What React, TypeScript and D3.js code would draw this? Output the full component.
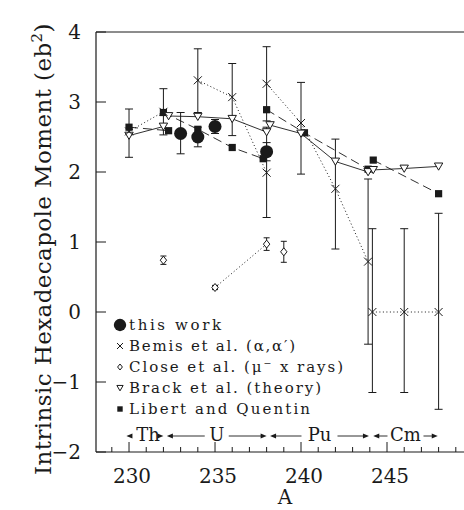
import React from "react";
import * as d3 from "d3";

// each row: [A, Q40 (eb^2), low end of error bar, high end of error bar]
const thisWork = [
  [233, 2.55, 2.26, 2.85],
  [234, 2.5, 2.36, 2.64],
  [235, 2.65, 2.55, 2.75],
  [238, 2.29, 2.16, 2.42],
];

// Bemis et al. (alpha, alpha'), one list per element chain
const bemisTh = [
  [230, 2.58, 2.21, 2.9],
  [232, 2.86, 2.53, 3.19],
];
const bemisU = [
  [234, 3.31, 2.85, 3.76],
  [236, 3.07, 2.52, 3.55],
  [238, 1.99, 1.35, 2.64],
];
const bemisPu = [
  [238, 3.26, 2.73, 3.79],
  [240, 2.7, 1.97, 3.28],
  [242, 1.76, 0.9, 2.47],
  [243.9, 0.72, -0.46, 1.9],
];
const bemisCm = [
  [244.15, 0, -1.15, 1.19],
  [246, 0, -1.15, 1.19],
  [248, 0, -1.39, 1.41],
];

// Close et al. (muonic x rays)
const closeSingle = [
  [232, 0.74, 0.68, 0.8],
  [239, 0.86, 0.71, 1.01],
];
const closeU = [
  [235, 0.35, 0.32, 0.38],
  [238, 0.97, 0.88, 1.06],
];

// Brack et al. (theory)
const brackTh = [[230, 2.52], [232, 2.65]];
const brackU = [[232.3, 2.8], [234, 2.79], [236, 2.76], [238, 2.57]];
const brackPu = [[238.2, 2.67], [240, 2.55], [242, 2.15], [243.9, 2.0]];
const brackCm = [[244.2, 2.03], [246, 2.05], [248, 2.08]];

// Libert and Quentin
const libertTh = [[230, 2.64], [232.3, 2.59]];
const libertU = [[232, 2.85], [234, 2.61], [236, 2.35], [237.8, 2.19]];
const libertPu = [[238, 2.89], [240.2, 2.56], [243.9, 2.04]];
const libertCm = [[244.2, 2.17], [248, 1.69]];

const yTicks = [-2, -1, 0, 1, 2, 3, 4];
const xMajor = [230, 235, 240, 245];
const elements = ["Th", "U", "Pu", "Cm"];
const elementFrom = [229.85, 232.2, 238.2, 244.2];
const elementTo = [232.0, 238.0, 243.95, 247.95];

const legendLabels = [
  "this work",
  "Bemis et al. (\u03b1,\u03b1\u2032)",
  "Close et al. (\u03bc\u207b x rays)",
  "Brack et al. (theory)",
  "Libert and Quentin",
];

const FONT = "DejaVu Serif";
const INK = "#1a1a1a";

function Marker({ kind, cx, cy, s = 1 }) {
  if (kind === "circle") return <circle cx={cx} cy={cy} r={6.5 * s} fill={INK} />;
  if (kind === "cross")
    return (
      <g stroke={INK} strokeWidth={1}>
        <line x1={cx - 4 * s} y1={cy - 4 * s} x2={cx + 4 * s} y2={cy + 4 * s} />
        <line x1={cx - 4 * s} y1={cy + 4 * s} x2={cx + 4 * s} y2={cy - 4 * s} />
      </g>
    );
  if (kind === "diamond")
    return (
      <path
        d={`M${cx},${cy - 4 * s}L${cx + 3.2 * s},${cy}L${cx},${cy + 4 * s}L${cx - 3.2 * s},${cy}Z`}
        fill="#fff"
        stroke={INK}
        strokeWidth={1}
      />
    );
  if (kind === "tri")
    return (
      <path
        d={`M${cx - 4.2 * s},${cy - 3.4 * s}L${cx + 4.2 * s},${cy - 3.4 * s}L${cx},${cy + 3.8 * s}Z`}
        fill="#fff"
        stroke={INK}
        strokeWidth={1}
      />
    );
  return <rect x={cx - 3.6 * s} y={cy - 3.6 * s} width={7.2 * s} height={7.2 * s} fill={INK} />;
}

export default function App() {
  const width = 464;
  const height = 510;

  const x = d3.scaleLinear().domain([228.08, 249.5]).range([96, 464.4]);
  const y = d3.scaleLinear().domain([-2, 4]).range([452, 32]);

  const line = d3
    .line<number[]>()
    .x((d) => x(d[0]))
    .y((d) => y(d[1]));

  const xMinor = d3.range(229, 250, 1);

  const errorBars = (data, cap) =>
    data.map((d, i) => (
      <g key={i} stroke={INK} strokeWidth={1}>
        <line x1={x(d[0])} x2={x(d[0])} y1={y(d[2])} y2={y(d[3])} />
        <line x1={x(d[0]) - cap} x2={x(d[0]) + cap} y1={y(d[2])} y2={y(d[2])} />
        <line x1={x(d[0]) - cap} x2={x(d[0]) + cap} y1={y(d[3])} y2={y(d[3])} />
      </g>
    ));

  const markers = (data, kind) =>
    data.map((d, i) => <Marker key={i} kind={kind} cx={x(d[0])} cy={y(d[1])} />);

  const dotted = { fill: "none", stroke: INK, strokeWidth: 1, strokeDasharray: "1 2.5" };
  const dashed = { fill: "none", stroke: INK, strokeWidth: 0.9, strokeDasharray: "9 5" };
  const solid = { fill: "none", stroke: INK, strokeWidth: 0.9 };

  const bemisAll = [...bemisTh, ...bemisU, ...bemisPu, ...bemisCm];
  const closeAll = [...closeSingle, ...closeU];
  const brackAll = [...brackTh, ...brackU, ...brackPu, ...brackCm];
  const libertAll = [...libertTh, ...libertU, ...libertPu, ...libertCm];

  const legendKinds = ["circle", "cross", "diamond", "tri", "square"];
  const legendLengths = [92, 166, 214, 192, 181];
  const legendY = d3.scaleLinear().domain([0, 4]).range([325, 409]);

  const arrowY = 436;
  const head = (tipX, dir) =>
    `M${tipX},${arrowY}L${tipX - dir * 6},${arrowY - 2.6}L${tipX - dir * 6},${arrowY + 2.6}Z`;

  return (
    <svg
      width={width}
      height={height}
      style={{ position: "absolute", left: 0, top: 0, background: "#fff" }}
      fontFamily={FONT}
    >
      <rect width={width} height={height} fill="#fff" />

      {/* frame */}
      <g stroke={INK} strokeWidth={1.2} fill="none">
        <line x1={96} x2={96} y1={32} y2={452} />
        <line x1={96} x2={464} y1={452} y2={452} />
        <line x1={96} x2={464} y1={32} y2={32} strokeWidth={1} />
      </g>

      {/* y ticks */}
      {yTicks.map((t) => (
        <g key={t}>
          <line x1={96} x2={106} y1={y(t)} y2={y(t)} stroke={INK} strokeWidth={1} />
          <text x={81} y={y(t) + 7} textAnchor="end" fontSize={20} fill={INK}>
            {t < 0 ? `\u2212${-t}` : t}
          </text>
        </g>
      ))}

      {/* x ticks */}
      {xMinor.map((t) => (
        <line
          key={t}
          x1={x(t)}
          x2={x(t)}
          y1={452}
          y2={xMajor.includes(t) ? 442 : 447}
          stroke={INK}
          strokeWidth={1}
        />
      ))}
      {xMajor.map((t) => (
        <text key={t} x={x(t) + 3} y={483} textAnchor="middle" fontSize={20} fill={INK}>
          {t}
        </text>
      ))}

      <text x={285} y={504} textAnchor="middle" fontSize={20} fill={INK}>
        A
      </text>
      <text
        transform="translate(51,249) rotate(-90)"
        textAnchor="middle"
        fontSize={23}
        letterSpacing={0.4}
        fill={INK}
      >
        Intrinsic Hexadecapole Moment (eb
        <tspan dy={-9} fontSize={15}>
          2
        </tspan>
        <tspan dy={9}>)</tspan>
      </text>

      {/* connecting lines */}
      {[bemisTh, bemisU, bemisPu, bemisCm, closeU].map((s, i) => (
        <path key={"b" + i} d={line(s)} style={dotted} />
      ))}
      {[brackTh, brackU, brackPu, brackCm].map((s, i) => (
        <path key={"t" + i} d={line(s)} style={solid} />
      ))}
      {[libertTh, libertU, libertPu, libertCm].map((s, i) => (
        <path key={"l" + i} d={line(s)} style={dashed} />
      ))}

      {/* error bars */}
      {errorBars(bemisAll, 4)}
      {errorBars(closeAll, 3)}
      {errorBars(thisWork, 4)}

      {/* markers */}
      {markers(libertAll, "square")}
      {markers(brackAll, "tri")}
      {markers(bemisAll, "cross")}
      {markers(closeAll, "diamond")}
      {markers(thisWork, "circle")}

      {/* legend */}
      {legendLabels.map((lab, i) => (
        <g key={lab}>
          <Marker kind={legendKinds[i]} cx={120} cy={legendY(i)} s={i === 0 ? 0.95 : 0.75} />
          <text
            x={129}
            y={legendY(i) + 5}
            fontSize={15}
            fill={INK}
            textLength={legendLengths[i]}
            lengthAdjust="spacing"
          >
            {lab}
          </text>
        </g>
      ))}

      {/* element ranges */}
      {elements.map((el, i) => {
        const a = x(elementFrom[i]);
        const b = x(elementTo[i]);
        const c = (a + b) / 2 + (el === "Th" ? 3 : 0);
        const half = el.length * 6 + 2;
        return (
          <g key={el}>
            <text x={c} y={441} textAnchor="middle" fontSize={18} fill={INK}>
              {el}
            </text>
            {el !== "Th" && (
              <g stroke={INK} strokeWidth={0.9}>
                <line x1={a + 5} x2={c - half - 4} y1={arrowY} y2={arrowY} />
                <line x1={c + half + 4} x2={b - 5} y1={arrowY} y2={arrowY} />
              </g>
            )}
            <path d={head(a, -1)} fill={INK} />
            <path d={head(b, 1)} fill={INK} />
          </g>
        );
      })}
    </svg>
  );
}
